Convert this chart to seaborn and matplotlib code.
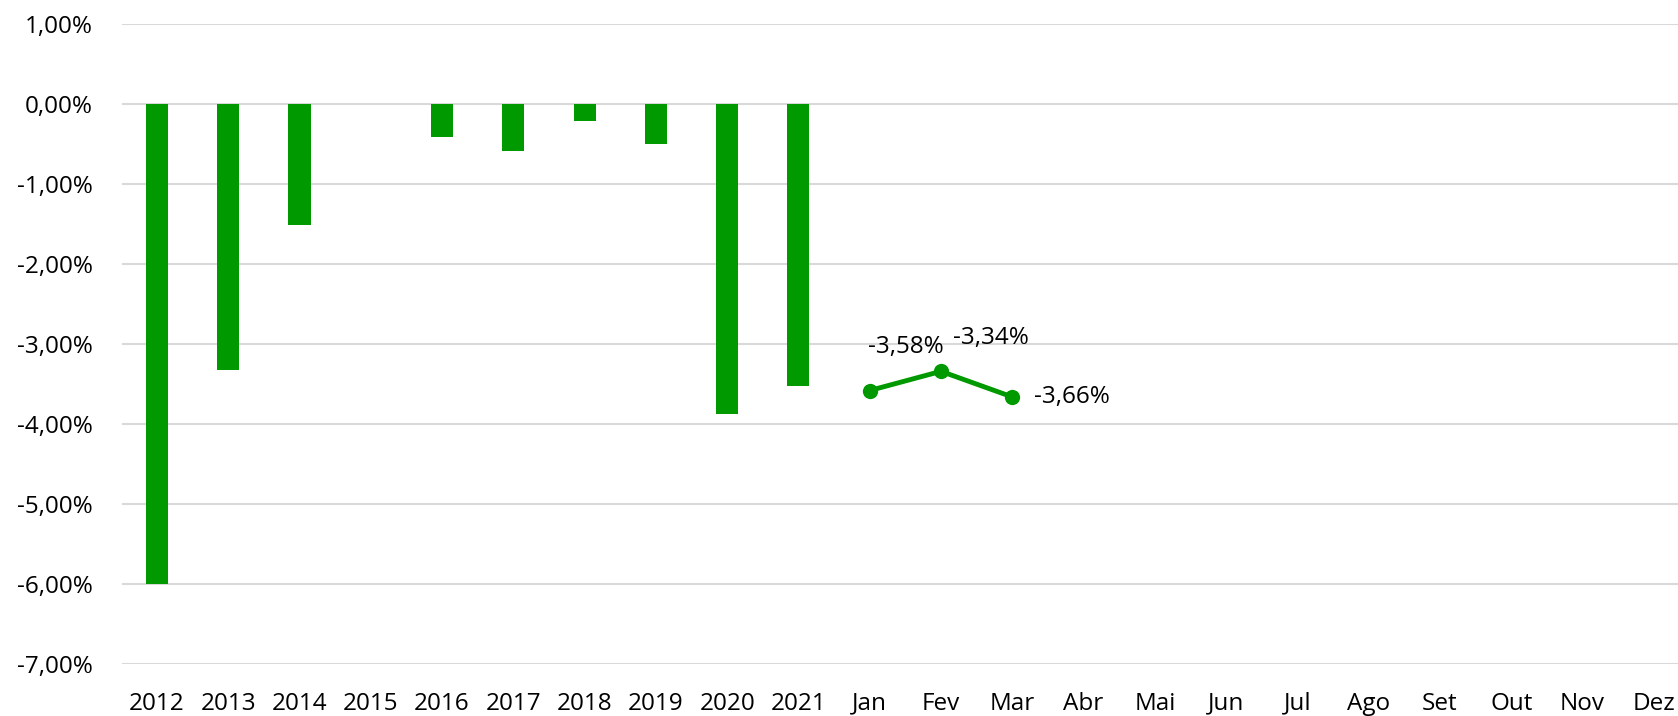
import numpy as np
import pandas as pd
import seaborn as sns
import matplotlib.pyplot as plt
from matplotlib.ticker import FuncFormatter

# data
categories = ["2012", "2013", "2014", "2015", "2016", "2017", "2018", "2019", "2020", "2021",
              "Jan", "Fev", "Mar", "Abr", "Mai", "Jun", "Jul", "Ago", "Set", "Out", "Nov", "Dez"]
years = ["2012", "2013", "2014", "2015", "2016", "2017", "2018", "2019", "2020", "2021"]
year_values = [-6.00, -3.32, -1.51, 0.0, -0.41, -0.58, -0.21, -0.50, -3.87, -3.52]
months = ["Jan", "Fev", "Mar"]
month_values = [-3.58, -3.34, -3.66]
label_offsets = [(36, 44), (50, 33), (60, 0)]  # pixels

green = "#009900"

plt.rcParams['font.family'] = ['Open Sans', 'DejaVu Sans']

bars = pd.DataFrame({"cat": years, "val": year_values})
line = pd.DataFrame({"pos": [categories.index(m) for m in months], "val": month_values})

fig = plt.figure(figsize = (16.78, 7.16), dpi = 100)
ax = fig.add_axes([0.0727, 0.0726, 0.9273, 0.8935])

sns.barplot(data = bars, x = "cat", y = "val", order = categories, color = green,
            saturation = 1, width = 0.31, ax = ax)
sns.lineplot(data = line, x = "pos", y = "val", color = green, linewidth = 3.5,
             marker = "o", markersize = 11, markeredgewidth = 0, ax = ax)

for p, v, (dx, dy) in zip(line["pos"], line["val"], label_offsets):
    ax.annotate(f"{v:.2f}%".replace(".", ","), (p, v), xytext = (dx, dy),
                textcoords = "offset pixels", ha = "center", va = "center", fontsize = 17.5)

ax.set_ylim(-7, 1)
ax.set_xlim(-0.49, 21.34)
ax.set_yticks(np.arange(-7, 1.5, 1))
ax.yaxis.set_major_formatter(FuncFormatter(lambda v, _: f"{v:.2f}%".replace(".", ",")))
ax.set_xticks(range(len(categories)))
ax.set_xticklabels(categories)
ax.grid(axis = "y", color = "#d9d9d9", linewidth = 1.5)
ax.set_axisbelow(True)
ax.tick_params(axis = "both", length = 0, labelsize = 17.5)
ax.tick_params(axis = "x", pad = 20)
ax.tick_params(axis = "y", pad = 21)
ax.set_xlabel("")
ax.set_ylabel("")
for s in ax.spines.values():
    s.set_visible(False)

fig.savefig("out.png", dpi = 100)
